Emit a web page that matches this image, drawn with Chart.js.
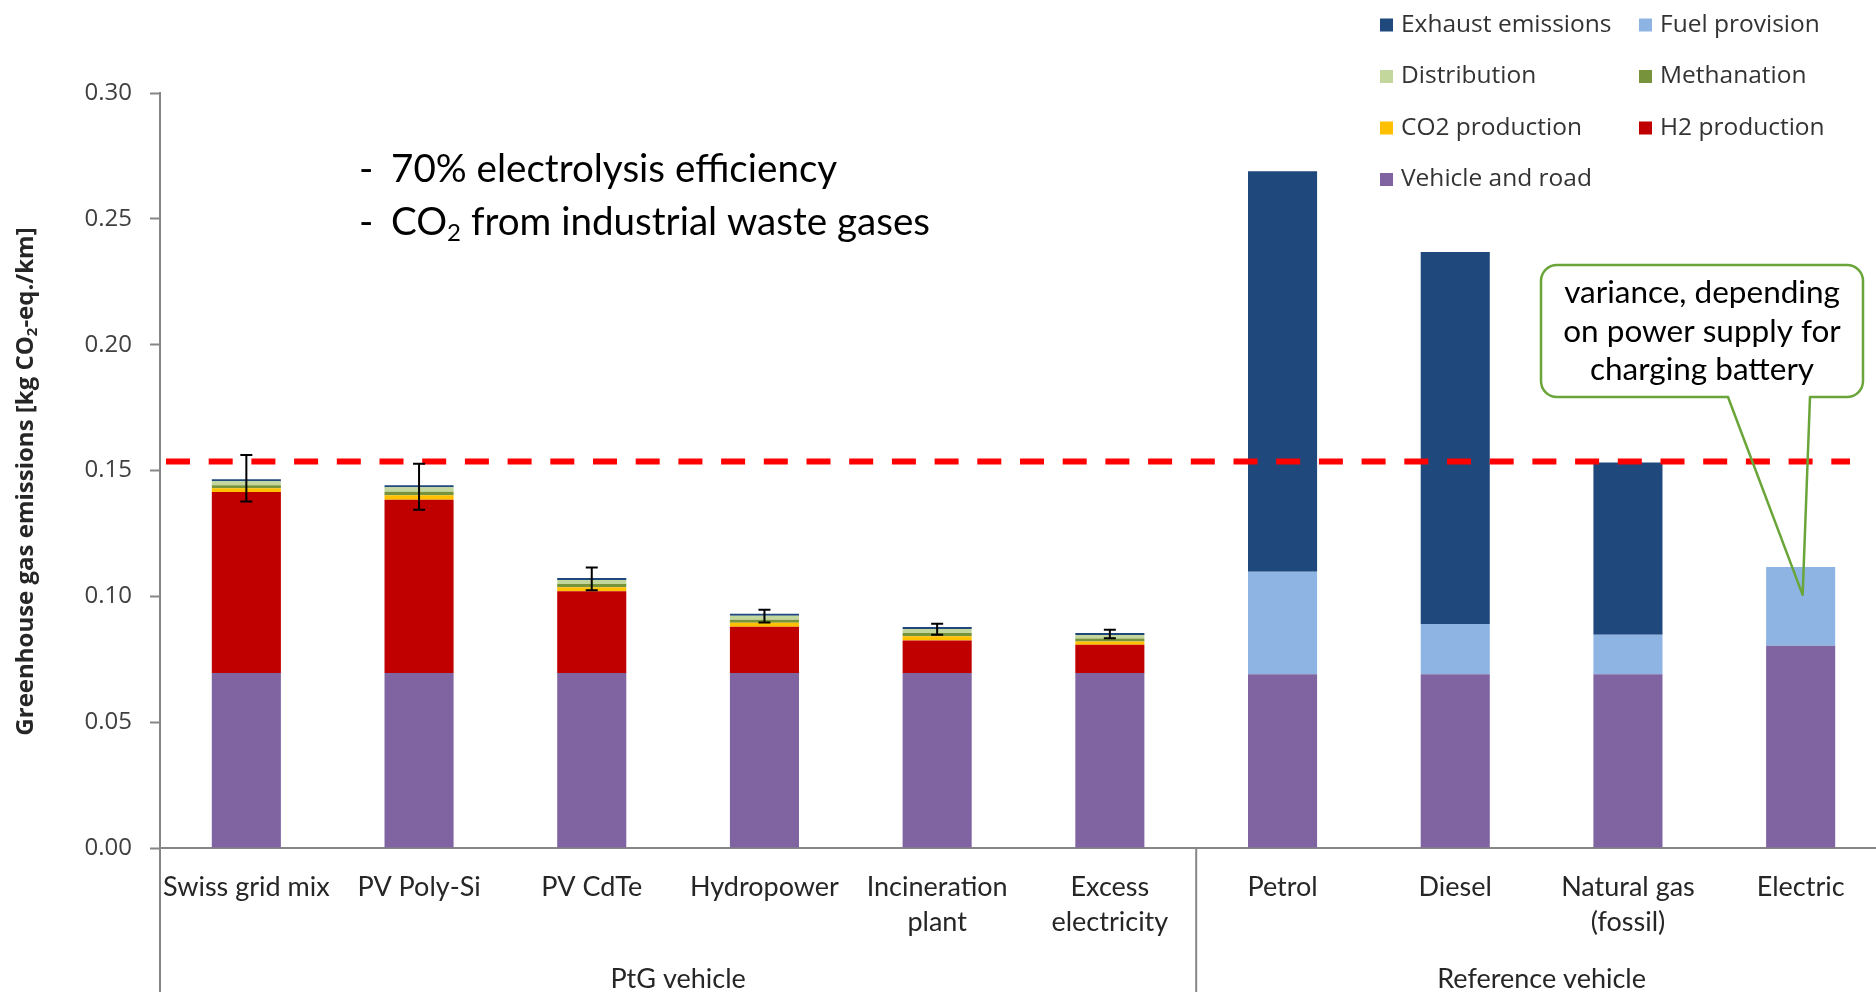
<!DOCTYPE html>
<html>
<head>
<meta charset="utf-8">
<title>Greenhouse gas emissions per km</title>
<script src="https://cdn.jsdelivr.net/npm/chart.js@4.4.1/dist/chart.umd.min.js"></script>
<style>
  html, body { margin: 0; padding: 0; background: #ffffff; overflow: hidden; }
  #wrap { position: relative; width: 1900px; height: 992px; }
</style>
</head>
<body>
<div id="wrap"><canvas id="chart" width="1900" height="992"></canvas></div>
<script>
// ---- data -------------------------------------------------------------
const categories = [
  ['Swiss grid mix'], ['PV Poly-Si'], ['PV CdTe'], ['Hydropower'],
  ['Incineration', 'plant'], ['Excess', 'electricity'],
  ['Petrol'], ['Diesel'], ['Natural gas', '(fossil)'], ['Electric']
];
const groups = ['PtG vehicle', 'Reference vehicle'];
const groupSizes = [6, 4];

// kg CO2-eq./km, stacked from the bottom up
const vehicleRoad   = [0.0695, 0.0695, 0.0695, 0.0695, 0.0695, 0.0695, 0.0690, 0.0690, 0.0690, 0.0804];
const h2Production  = [0.0720, 0.0689, 0.0325, 0.0184, 0.0130, 0.0113, 0, 0, 0, 0];
const co2Production = [0.0014, 0.0018, 0.0016, 0.0016, 0.0016, 0.0013, 0, 0, 0, 0];
const methanation   = [0.0012, 0.0014, 0.0013, 0.0012, 0.0013, 0.0011, 0, 0, 0, 0];
const distribution  = [0.0016, 0.0017, 0.0016, 0.0016, 0.0016, 0.0014, 0, 0, 0, 0];
const fuelProvision = [0, 0, 0, 0, 0, 0, 0.0408, 0.0200, 0.0157, 0.0313];
const exhaust       = [0.0008, 0.0008, 0.0008, 0.0008, 0.0008, 0.0008, 0.1591, 0.1478, 0.0685, 0];

// uncertainty range of the PtG totals
const errLow  = [0.1377, 0.1344, 0.1024, 0.0896, 0.0847, 0.0833, null, null, null, null];
const errHigh = [0.1562, 0.1527, 0.1115, 0.0947, 0.0891, 0.0867, null, null, null, null];

// natural gas (fossil) level, drawn as a dashed guide line
const referenceLine = 0.1536;
// value on the Electric bar that the callout points to
const calloutAnchor = 0.1006;

const yMin = 0, yMax = 0.30, yStep = 0.05;

const seriesNames  = ['Vehicle and road', 'H2 production', 'CO2 production', 'Methanation', 'Distribution', 'Fuel provision', 'Exhaust emissions'];
const seriesValues = [vehicleRoad, h2Production, co2Production, methanation, distribution, fuelProvision, exhaust];
const seriesColors = ['#8064A2', '#C00000', '#FFC000', '#77933C', '#C3D69B', '#8EB4E3', '#1F497D'];
const legendOrder  = ['Exhaust emissions', 'Fuel provision', 'Distribution', 'Methanation', 'CO2 production', 'H2 production', 'Vehicle and road'];

const noteLines = [
  [{ t: '70% electrolysis efficiency' }],
  [{ t: 'CO' }, { t: '2', sub: true }, { t: ' from industrial waste gases' }]
];
const calloutLines = ['variance, depending', 'on power supply for', 'charging battery'];
const yTitle = [{ t: 'Greenhouse gas emissions [kg CO' }, { t: '2', sub: true }, { t: '-eq./km]' }];

// ---- fonts ------------------------------------------------------------
const SANS = '"Open Sans", "Noto Sans", sans-serif';
const HUMAN = 'Lato, "Open Sans", sans-serif';
const AXIS_GREY = '#868686';
const TEXT_GREY = '#333333';

// text runs with optional subscripts
function richWidth(ctx, parts, size, weight, family) {
  let w = 0;
  parts.forEach(p => {
    ctx.font = `${weight} ${p.sub ? Math.round(size * 0.62) : size}px ${family}`;
    w += ctx.measureText(p.t).width;
  });
  return w;
}
function drawRich(ctx, parts, x, y, size, weight, family) {
  let cx = x;
  parts.forEach(p => {
    const s = p.sub ? Math.round(size * 0.62) : size;
    ctx.font = `${weight} ${s}px ${family}`;
    ctx.fillText(p.t, cx, p.sub ? y + size * 0.28 : y);
    cx += ctx.measureText(p.t).width;
  });
}

// ---- plugins ----------------------------------------------------------
const groupAxisPlugin = {
  id: 'groupAxis',
  afterDraw(chart) {
    const { ctx, chartArea: a, scales: { x } } = chart;
    const half = (x.getPixelForValue(1) - x.getPixelForValue(0)) / 2;
    const bounds = [a.left];
    let idx = 0;
    groupSizes.forEach(n => { idx += n; bounds.push(x.getPixelForValue(idx - 1) + half); });
    ctx.save();
    ctx.strokeStyle = AXIS_GREY;
    ctx.lineWidth = 2;
    bounds.forEach(b => {
      ctx.beginPath();
      ctx.moveTo(b, a.bottom);
      ctx.lineTo(b, chart.height);
      ctx.stroke();
    });
    ctx.fillStyle = '#262626';
    ctx.font = `27px ${HUMAN}`;
    ctx.textAlign = 'center';
    ctx.textBaseline = 'middle';
    groups.forEach((g, i) => ctx.fillText(g, (bounds[i] + bounds[i + 1]) / 2, a.bottom + 131));
    ctx.restore();
  }
};

const guideLinePlugin = {
  id: 'guideLine',
  afterDatasetsDraw(chart) {
    const { ctx, chartArea: a, scales: { y } } = chart;
    const py = y.getPixelForValue(referenceLine);
    ctx.save();
    ctx.strokeStyle = '#FF0000';
    ctx.lineWidth = 6;
    ctx.setLineDash([24, 18.7]);
    ctx.beginPath();
    ctx.moveTo(a.left + 6, py);
    ctx.lineTo(a.right - 37, py);
    ctx.stroke();
    ctx.restore();
  }
};

const errorBarPlugin = {
  id: 'errorBars',
  afterDatasetsDraw(chart) {
    const { ctx, scales: { x, y } } = chart;
    ctx.save();
    ctx.strokeStyle = '#000000';
    ctx.lineWidth = 2;
    errLow.forEach((lo, i) => {
      const hi = errHigh[i];
      if (lo == null || hi == null) return;
      const px = x.getPixelForValue(i);
      const y1 = y.getPixelForValue(lo), y2 = y.getPixelForValue(hi);
      ctx.beginPath();
      ctx.moveTo(px, y1); ctx.lineTo(px, y2);
      ctx.moveTo(px - 6, y1); ctx.lineTo(px + 6, y1);
      ctx.moveTo(px - 6, y2); ctx.lineTo(px + 6, y2);
      ctx.stroke();
    });
    ctx.restore();
  }
};

const calloutPlugin = {
  id: 'callout',
  afterDatasetsDraw(chart) {
    const { ctx, scales: { x, y } } = chart;
    const tipX = x.getPixelForValue(9) + 2;
    const tipY = y.getPixelForValue(calloutAnchor);
    const L = 1541, T = 265, R = 1863, B = 397, r = 16;
    const w1 = 1728, w2 = 1810;
    ctx.save();
    ctx.beginPath();
    ctx.roundRect(L, T, R - L, B - T, r);
    ctx.fillStyle = '#ffffff';
    ctx.fill();
    ctx.beginPath();
    ctx.moveTo(L + r, T);
    ctx.lineTo(R - r, T);
    ctx.arcTo(R, T, R, T + r, r);
    ctx.lineTo(R, B - r);
    ctx.arcTo(R, B, R - r, B, r);
    ctx.lineTo(w2, B);
    ctx.lineTo(tipX, tipY);
    ctx.lineTo(w1, B);
    ctx.lineTo(L + r, B);
    ctx.arcTo(L, B, L, B - r, r);
    ctx.lineTo(L, T + r);
    ctx.arcTo(L, T, L + r, T, r);
    ctx.closePath();
    ctx.strokeStyle = '#6AA53A';
    ctx.lineWidth = 2.5;
    ctx.lineJoin = 'round';
    ctx.stroke();
    ctx.fillStyle = '#000000';
    ctx.font = `31.5px ${HUMAN}`;
    ctx.textAlign = 'center';
    ctx.textBaseline = 'middle';
    calloutLines.forEach((t, i) => ctx.fillText(t, (L + R) / 2, 293 + i * 38.5));
    ctx.restore();
  }
};

const notesPlugin = {
  id: 'notes',
  afterDraw(chart) {
    const { ctx } = chart;
    ctx.save();
    ctx.fillStyle = '#000000';
    ctx.textAlign = 'left';
    ctx.textBaseline = 'middle';
    noteLines.forEach((parts, i) => {
      const yy = 170 + i * 52.5;
      ctx.font = `38.6px ${HUMAN}`;
      ctx.fillText('-', 359, yy);
      drawRich(ctx, parts, 391, yy, 38.6, 'normal', HUMAN);
    });
    ctx.restore();
  }
};

const yTitlePlugin = {
  id: 'yTitle',
  afterDraw(chart) {
    const { ctx, chartArea: a } = chart;
    ctx.save();
    ctx.translate(26, (a.top + a.bottom) / 2 + 11);
    ctx.rotate(-Math.PI / 2);
    ctx.fillStyle = '#262626';
    ctx.textAlign = 'left';
    ctx.textBaseline = 'middle';
    const w = richWidth(ctx, yTitle, 24, 'bold', SANS);
    drawRich(ctx, yTitle, -w / 2, 0, 24, 'bold', SANS);
    ctx.restore();
  }
};

const gridLegendPlugin = {
  id: 'gridLegend',
  afterDraw(chart) {
    const { ctx } = chart;
    const colX = [1380, 1639];
    const rowY0 = 25, rowStep = 51.5, box = 13;
    ctx.save();
    ctx.font = `24.5px ${SANS}`;
    ctx.textAlign = 'left';
    ctx.textBaseline = 'middle';
    legendOrder.forEach((name, i) => {
      const ds = chart.data.datasets.find(d => d.label === name);
      const cx = colX[i % 2];
      const cy = rowY0 + Math.floor(i / 2) * rowStep;
      ctx.fillStyle = ds.backgroundColor;
      ctx.fillRect(cx, cy - box / 2, box, box);
      ctx.fillStyle = TEXT_GREY;
      ctx.fillText(name, cx + 21, cy);
    });
    ctx.restore();
  }
};

// ---- chart ------------------------------------------------------------
function build() {
  const datasets = seriesNames.map((name, i) => ({
    label: name,
    data: seriesValues[i],
    backgroundColor: seriesColors[i],
    borderWidth: 0,
    stack: 'total',
    barPercentage: 0.4,
    categoryPercentage: 1.0
  }));

  new Chart(document.getElementById('chart'), {
    type: 'bar',
    data: { labels: categories, datasets },
    options: {
      responsive: false,
      animation: false,
      events: [],
      layout: { padding: { top: 93, right: 13, bottom: 0, left: 0 } },
      plugins: { legend: { display: false }, tooltip: { enabled: false } },
      scales: {
        x: {
          stacked: true,
          grid: { display: false, drawTicks: false },
          border: { display: true, color: AXIS_GREY, width: 2 },
          ticks: {
            autoSkip: false, maxRotation: 0, minRotation: 0,
            padding: 22,
            color: '#262626',
            font: { family: HUMAN, size: 27, lineHeight: 1.285 }
          },
          afterFit(scale) { scale.height = 144; }
        },
        y: {
          stacked: true,
          min: yMin, max: yMax,
          grid: { display: true, drawOnChartArea: false, drawTicks: true, tickLength: 10, tickColor: AXIS_GREY, tickWidth: 2 },
          border: { display: true, color: AXIS_GREY, width: 2 },
          ticks: {
            stepSize: yStep,
            padding: 18,
            color: '#404040',
            font: { family: SANS, size: 24 },
            callback: v => v.toFixed(2)
          },
          afterFit(scale) { scale.width = 160; }
        }
      }
    },
    plugins: [guideLinePlugin, errorBarPlugin, calloutPlugin, groupAxisPlugin, notesPlugin, yTitlePlugin, gridLegendPlugin]
  });
}

const fontLoads = [
  `24px ${SANS}`, `bold 24px ${SANS}`, `27px ${HUMAN}`, `38px ${HUMAN}`
].map(f => document.fonts.load(f).catch(() => null));
Promise.all(fontLoads).then(build, build);
</script>
</body>
</html>
